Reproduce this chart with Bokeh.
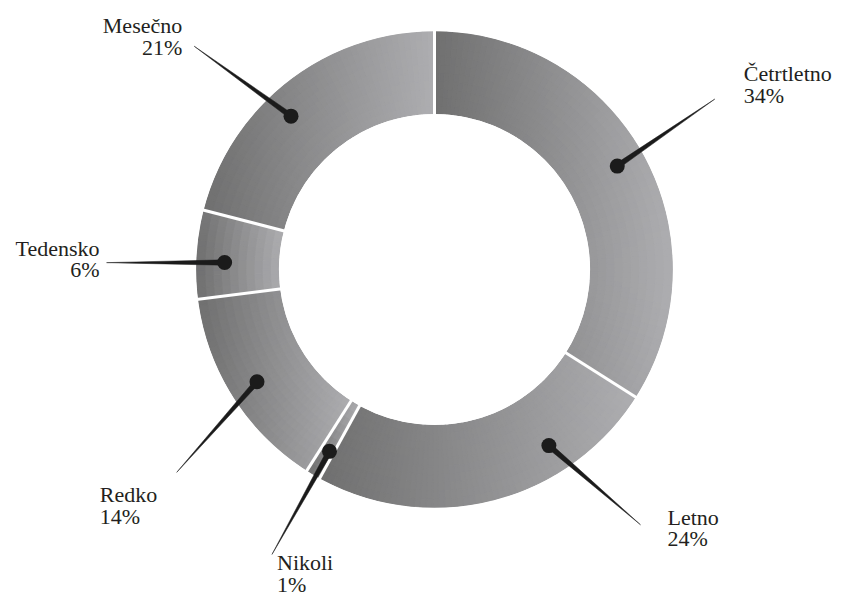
import numpy as np
from bokeh.plotting import figure
from bokeh.models import Range1d, ColumnDataSource
from bokeh.embed import file_html
from bokeh.resources import INLINE
from bokeh.core.properties import value

# ---------------- data ----------------
categories = ["Četrtletno", "Letno", "Nikoli", "Redko", "Tedensko", "Mesečno"]
shares = [34, 24, 1, 14, 6, 21]
pct_labels = ["34%", "24%", "1%", "14%", "6%", "21%"]

# ---------------- layout ----------------
W, H = 841, 598
CX, CY = 434, H - 269
R_OUT, R_IN = 238, 156
R_DOT, R_TIP = 210, 328
DARK = np.array([112, 112, 112])
LIGHT = np.array([174, 174, 177])
# leader nudges (degrees, relative to slice middle)
dot_nudge = [-0.7, -18.6, -0.6, 0.1, -1.7, -5.3]
tip_nudge = [-2.5, -24.5, -0.9, -5.8, -2.4, -9.3]
# label placement relative to leader tip (px, y down), alignment
lab_dx = [29, 27, 5, -77, -7, -12]
lab_dy = [-17, 1, 17, 31, -6, -12]
lab_align = ["left", "left", "left", "left", "right", "right"]
LINE_GAP = 21.5
TEXT_SHIFT = 8.5

p = figure(width=W, height=H, x_range=Range1d(0, W), y_range=Range1d(0, H),
           output_backend="svg", toolbar_location=None, min_border=0,
           x_axis_location=None, y_axis_location=None)
p.grid.visible = False
p.outline_line_color = None
p.background_fill_color = "white"
p.border_fill_color = "white"


def pos(theta_deg, r):
    t = np.radians(theta_deg)
    return CX + r * np.sin(t), CY + r * np.cos(t)


total = float(sum(shares))
edges = np.concatenate([[0.0], np.cumsum(shares) / total * 360.0])

# gradient-filled slices made of small cells
cells = dict(ir=[], orr=[], sa=[], ea=[], col=[])
N_RAD = 10
for i in range(len(shares)):
    a0, a1 = edges[i], edges[i + 1]
    th = np.linspace(a0, a1, 200)
    xs = np.concatenate([pos(th, R_OUT)[0], pos(th, R_IN)[0]])
    xmin, xmax = xs.min(), xs.max()
    n_ang = max(2, int(np.ceil((a1 - a0) / 1.5)))
    angs = np.linspace(a0, a1, n_ang + 1)
    rads = np.linspace(R_IN, R_OUT, N_RAD + 1)
    for j in range(n_ang):
        for k in range(N_RAD):
            tm = 0.5 * (angs[j] + angs[j + 1])
            rm = 0.5 * (rads[k] + rads[k + 1])
            xm = pos(tm, rm)[0]
            t = (xm - xmin) / max(xmax - xmin, 1e-6)
            c = (DARK + t * (LIGHT - DARK)).astype(int)
            cells["ir"].append(rads[k])
            cells["orr"].append(rads[k + 1])
            cells["sa"].append(np.radians(90 - angs[j + 1]))
            cells["ea"].append(np.radians(90 - angs[j]))
            cells["col"].append("#%02x%02x%02x" % tuple(c))

src = ColumnDataSource(cells)
p.annular_wedge(x=CX, y=CY, inner_radius="ir", outer_radius="orr",
                start_angle="sa", end_angle="ea", direction="anticlock",
                fill_color="col", line_color="col", line_width=1.3, source=src)

# clean inner / outer edges
p.annulus(x=CX, y=CY, inner_radius=R_IN - 3, outer_radius=R_IN - 0.4,
          fill_color="white", line_color=None)
p.annulus(x=CX, y=CY, inner_radius=R_OUT + 0.4, outer_radius=R_OUT + 3,
          fill_color="white", line_color=None)

# white separators
sx0, sy0 = pos(edges[:-1], R_IN - 2)
sx1, sy1 = pos(edges[:-1], R_OUT + 2)
p.segment(x0=sx0, y0=sy0, x1=sx1, y1=sy1, line_color="white", line_width=3)

# leaders
mids = 0.5 * (edges[:-1] + edges[1:])
px, py = [], []
dxs, dys = [], []
tips = []
for i in range(len(shares)):
    dth = mids[i] + dot_nudge[i]
    tth = mids[i] + tip_nudge[i]
    dx, dy = pos(dth, R_DOT)
    tx, ty = pos(tth, R_TIP)
    v = np.array([tx - dx, ty - dy])
    v = v / np.linalg.norm(v)
    nrm = np.array([-v[1], v[0]]) * 2.7
    px.append([dx + nrm[0], tx, dx - nrm[0]])
    py.append([dy + nrm[1], ty, dy - nrm[1]])
    dxs.append(dx)
    dys.append(dy)
    tips.append((tx, ty))

p.patches(xs=px, ys=py, fill_color="#1b1b1b", line_color="#1b1b1b", line_width=0.5)
p.circle(x=dxs, y=dys, radius=7.5, fill_color="#1b1b1b", line_color=None)

# labels
for align in ("left", "right"):
    xs_, ys_, tx_ = [], [], []
    for i in range(len(shares)):
        if lab_align[i] != align:
            continue
        tx, ty = tips[i]
        lx = tx + lab_dx[i]
        ly = ty - lab_dy[i] + TEXT_SHIFT
        xs_ += [lx, lx]
        ys_ += [ly, ly - LINE_GAP]
        tx_ += [categories[i], pct_labels[i]]
    p.text(x=xs_, y=ys_, text=tx_, text_align=align, text_baseline="alphabetic",
           text_font=value("Liberation Serif"), text_font_size="22px",
           text_color="#231f20")

open("out.html", "w").write(file_html(p, INLINE))
